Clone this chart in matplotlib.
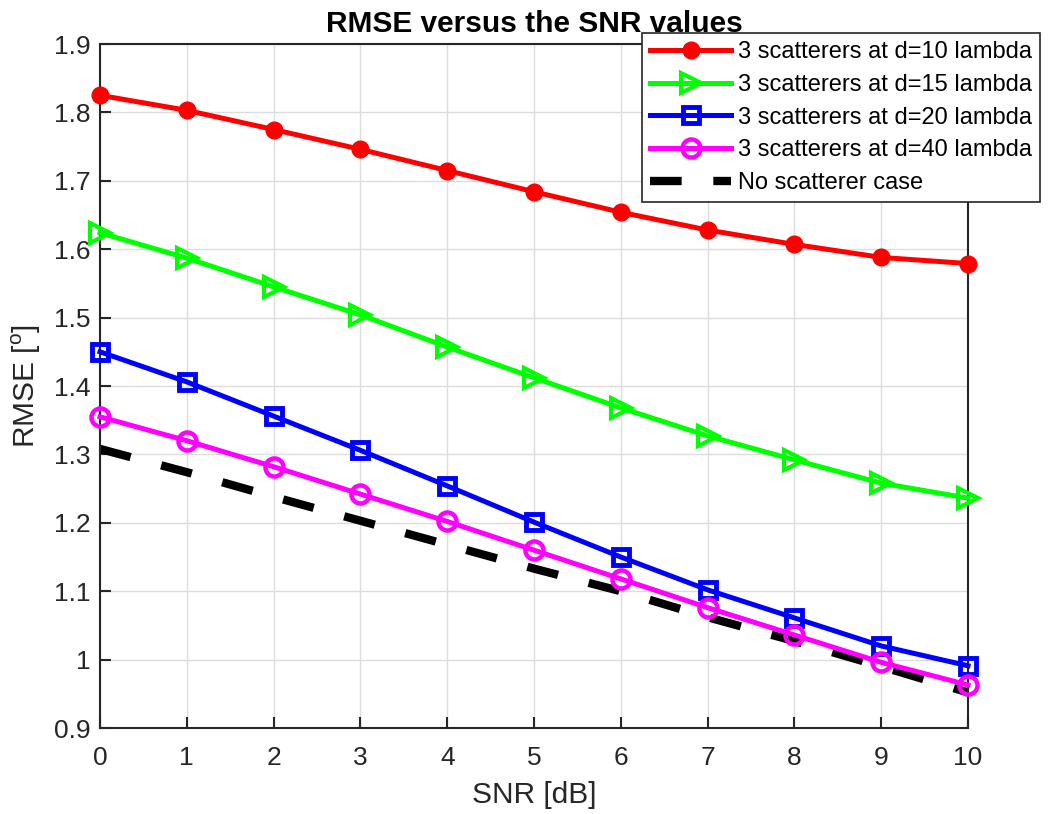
import numpy as np
import matplotlib
matplotlib.use("Agg")
import matplotlib.pyplot as plt

plt.rcParams['font.family'] = ['Liberation Sans', 'DejaVu Sans']
plt.rcParams['mathtext.fontset'] = 'custom'
plt.rcParams['mathtext.rm'] = 'Liberation Sans'

snr = [0, 1, 2, 3, 4, 5, 6, 7, 8, 9, 10]

rmse_d10 = [1.825, 1.803, 1.775, 1.746, 1.715, 1.684, 1.654, 1.628, 1.607, 1.588, 1.579]
rmse_d15 = [1.624, 1.587, 1.545, 1.504, 1.457, 1.412, 1.368, 1.327, 1.292, 1.258, 1.236]
rmse_d20 = [1.450, 1.406, 1.356, 1.306, 1.254, 1.201, 1.150, 1.102, 1.061, 1.020, 0.991]
rmse_d40 = [1.355, 1.320, 1.282, 1.242, 1.202, 1.160, 1.118, 1.076, 1.036, 0.996, 0.963]
rmse_none = [1.308, 1.274, 1.238, 1.203, 1.168, 1.133, 1.100, 1.062, 1.027, 0.990, 0.952]

labels = ['3 scatterers at d=10 lambda', '3 scatterers at d=15 lambda',
          '3 scatterers at d=20 lambda', '3 scatterers at d=40 lambda',
          'No scatterer case']

fig = plt.figure(figsize=(10.51, 8.14), dpi=100)
ax = fig.add_axes([100/1051, 1 - 728/814, 868/1051, 684/814])

lw = 3.6
ax.plot(snr, rmse_d10, '-o', color='#ff0000', lw=lw, ms=12, mec='#ff0000', mfc='#ff0000',
        clip_on=False, zorder=3, label=labels[0])
ax.plot(snr, rmse_d15, '->', color='#00ff00', lw=lw, ms=15, mec='#00ff00', mfc='none', mew=3,
        clip_on=False, zorder=3, label=labels[1])
ax.plot(snr, rmse_d20, '-s', color='#0000ff', lw=lw, ms=11, mec='#0000ff', mfc='none', mew=3.5,
        clip_on=False, zorder=3, label=labels[2])
ax.plot(snr, rmse_d40, '-o', color='#ff00ff', lw=lw, ms=13, mec='#ff00ff', mfc='none', mew=3.2,
        clip_on=False, zorder=3, label=labels[3])
ax.plot(snr, rmse_none, '--', color='black', lw=6, dashes=(3.8, 3.8), zorder=2.5,
        label=labels[4])

ax.set_xlim(0, 10)
ax.set_ylim(0.9, 1.9)
ax.set_xticks(np.arange(0, 11, 1))
ax.set_yticks(np.arange(0.9, 1.91, 0.1))
ax.set_yticklabels(['0.9', '1', '1.1', '1.2', '1.3', '1.4', '1.5', '1.6', '1.7', '1.8', '1.9'])
ax.grid(True, color='#dcdcdc', lw=1)
ax.set_axisbelow(True)
ax.tick_params(direction='in', length=8, width=1.5, labelsize=19, colors='#262626',
               top=False, right=False)
ax.tick_params(axis='x', pad=13)
ax.tick_params(axis='y', pad=6.5)
for s in ax.spines.values():
    s.set_color('#262626')
    s.set_linewidth(1.5)

ax.set_title('RMSE versus the SNR values', fontsize=21.5, fontweight='bold', pad=9)
ax.set_xlabel('SNR [dB]', fontsize=21.5, color='#262626', labelpad=8)
ax.set_ylabel(r'RMSE [$^{\mathrm{o}}$]', fontsize=21.5, color='#262626', labelpad=8)

leg = ax.legend(loc='upper right', bbox_to_anchor=(1040/1051, 1 - 33/814),
                bbox_transform=fig.transFigure, fontsize=17, frameon=True,
                fancybox=False, edgecolor='#262626', framealpha=1, borderaxespad=0,
                handlelength=3.4, borderpad=0.35, labelspacing=0.45, handletextpad=0.3)
leg.get_frame().set_linewidth(1.2)

fig.savefig('out.png', dpi=100)
